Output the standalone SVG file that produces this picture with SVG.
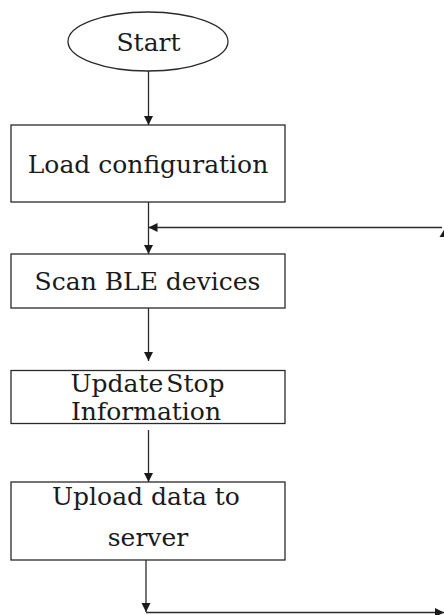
<svg xmlns="http://www.w3.org/2000/svg" width="444" height="615" viewBox="0 0 444 615">
  <style>
    .box { fill: #ffffff; stroke: #2a2a2a; stroke-width: 1.3; }
    .lbl { font-family: "DejaVu Serif", "Liberation Serif", serif; font-size: 25px; fill: #1a1a1a; text-anchor: middle; }
    .conn { stroke: #2a2a2a; stroke-width: 1.3; fill: none; }
  </style>
  <defs>
    <marker id="arr" viewBox="0 0 10 10" refX="10" refY="5" markerWidth="9" markerHeight="10" markerUnits="userSpaceOnUse" orient="auto">
      <path d="M0,0 L10,5 L0,10 z" fill="#1a1a1a"/>
    </marker>
  </defs>
  <rect width="444" height="615" fill="#ffffff"/>

  <g id="start">
    <ellipse class="box" cx="148" cy="41.5" rx="80" ry="29.5"/>
    <text class="lbl" x="148.5" y="51">Start</text>
  </g>
  <g id="load-config">
    <rect class="box" x="11" y="125" width="274" height="77"/>
    <text class="lbl" x="148" y="173">Load configuration</text>
  </g>
  <g id="scan-ble">
    <rect class="box" x="11" y="254" width="274" height="54"/>
    <text class="lbl" x="147.5" y="290">Scan BLE devices</text>
  </g>
  <g id="update-stop">
    <rect class="box" x="11" y="370.5" width="274" height="53"/>
    <text class="lbl" x="147.5" y="391.5" word-spacing="-5">Update Stop</text>
    <text class="lbl" x="146" y="420">Information</text>
  </g>
  <g id="upload-data">
    <rect class="box" x="11" y="482" width="274" height="78"/>
    <text class="lbl" x="146" y="505">Upload data to</text>
    <text class="lbl" x="148" y="545.5">server</text>
  </g>

  <g id="connectors">
    <line class="conn" x1="148.5" y1="71" x2="148.5" y2="125" marker-end="url(#arr)"/>
    <line class="conn" x1="148.5" y1="202" x2="148.5" y2="254" marker-end="url(#arr)"/>
    <line class="conn" x1="442" y1="227.5" x2="148.5" y2="227.5" marker-end="url(#arr)"/>
    <polygon points="445,228 439.5,237 450.5,237" fill="#1a1a1a"/>
    <line class="conn" x1="148.5" y1="308" x2="148.5" y2="361" marker-end="url(#arr)"/>
    <line class="conn" x1="148.5" y1="430" x2="148.5" y2="482" marker-end="url(#arr)"/>
    <line class="conn" x1="146" y1="560" x2="146" y2="612" marker-end="url(#arr)"/>
    <line class="conn" x1="146" y1="612.5" x2="444" y2="612.5" marker-end="url(#arr)"/>
  </g>
</svg>
